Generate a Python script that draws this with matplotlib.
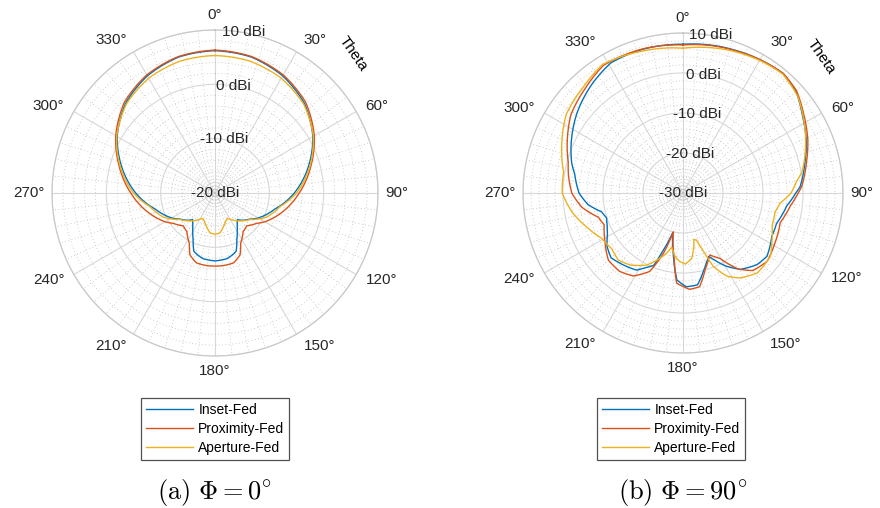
import numpy as np
import matplotlib
matplotlib.use("Agg")
import matplotlib.pyplot as plt

plt.rcParams['font.family'] = ['Liberation Sans', 'DejaVu Sans']
plt.rcParams['mathtext.fontset'] = 'cm'

# farger (MATLAB standard)
c_inset = '#0072BD'
c_prox = '#D95319'
c_apert = '#EDB120'
txt = '#262626'
grid_c = '#d8d8d8'

series = ["Inset-Fed", "Proximity-Fed", "Aperture-Fed"]
theta_ticks = list(range(0, 360, 30))
theta_labels = [f"{a}°" for a in theta_ticks]

# (a) Phi = 0 deg, symmetrisk -> bare 0..180 grader
a_inset_th = [0, 15, 30, 45, 60, 75, 90, 105, 120, 127, 135, 140, 145, 150, 155, 160, 165, 170, 175, 180]
a_inset_db = [6.2, 5.9, 4.9, 3.3, 0.8, -2.3, -5.4, -8.6, -10.8, -12.0, -12.9, -13.6, -12.9, -11.8, -10.5, -8.6, -8.1, -7.7, -7.6, -7.5]
a_prox_th = [0, 15, 30, 45, 60, 75, 90, 105, 113, 120, 126, 136, 144, 153, 158, 165, 170, 175, 180]
a_prox_db = [6.3, 6.0, 5.1, 3.6, 1.1, -1.8, -4.5, -7.0, -8.3, -9.4, -10.5, -11.6, -11.2, -9.6, -7.7, -6.7, -6.6, -6.55, -6.55]
a_apert_th = [0, 15, 30, 45, 60, 75, 90, 102, 115, 127, 142, 148, 154, 158, 162, 166, 173, 180]
a_apert_db = [5.3, 5.1, 4.4, 3.1, 0.9, -2.0, -5.0, -7.8, -9.5, -11.9, -13.5, -14.2, -14.8, -14.6, -14.1, -13.6, -12.6, -12.4]

# (b) Phi = 90 deg, hele runden
b_inset_th = [0, 10, 20, 30, 40, 48, 57, 67, 76, 87, 90, 97, 108, 116, 127, 134, 143, 150, 155, 158, 161, 165,
              171, 178, 184, 189, 194.5, 199, 202, 207, 211, 220, 228, 235, 241, 246, 252, 257, 263, 270, 280,
              285, 295, 307, 319, 331, 345, 360]
b_inset_db = [7.2, 7.6, 8.0, 8.5, 9.0, 8.0, 5.6, 3.5, 1.4, -0.7, -1.8, -3.85, -5.4, -5.3, -3.7, -4.25, -6.1, -9.0,
              -11.6, -12.9, -11.8, -10.0, -6.75, -6.55, -8.2, -14.5, -19.8, -14.9, -10.5, -9.0, -7.5, -6.6, -5.8,
              -6.8, -8.4, -9.3, -9.9, -9.1, -6.1, -4.0, -2.5, -1.2, 0.8, 3.2, 5.3, 7.2, 7.3, 7.2]
b_prox_th = [0, 10, 20, 30, 40, 48, 57, 67, 76, 87, 90, 97, 107, 119, 129, 138, 144, 150.5, 156.5, 160, 164, 170,
             176, 184, 188, 194, 198, 203, 211, 219, 228, 238, 248, 254, 262, 270, 279, 285, 295, 305, 317, 328,
             345, 360]
b_prox_db = [7.0, 7.5, 7.9, 8.5, 9.0, 8.2, 6.0, 3.9, 1.8, -0.3, -1.2, -3.0, -4.6, -3.8, -2.9, -3.9, -6.5, -11.2,
             -13.1, -11.8, -10.0, -6.2, -5.85, -7.4, -13.9, -20.0, -14.1, -8.7, -5.8, -4.8, -4.9, -7.0, -8.75,
             -8.0, -4.45, -2.2, -1.0, -0.3, 1.9, 4.2, 5.8, 7.6, 7.4, 7.0]
b_apert_th = [0, 15, 30, 40, 50, 60, 70, 80, 84, 90, 96, 101.5, 110, 118, 126, 137, 146, 152, 157.5, 160.5, 164,
              166.7, 169, 172.4, 178, 182.5, 187, 191.8, 195, 199.4, 206.8, 216.4, 224, 232, 241, 249.6, 260.5,
              270, 280, 294, 304, 317, 328, 344, 360]
b_apert_db = [6.2, 7.3, 8.3, 8.8, 7.5, 5.0, 2.6, 0.2, -1.4, -3.0, -5.6, -6.5, -6.3, -4.8, -3.0, -2.7, -4.4, -6.4,
              -10.1, -14.5, -17.7, -18.1, -16.0, -13.5, -12.25, -12.8, -13.95, -16.2, -14.5, -12.7, -9.8, -7.65,
              -6.7, -7.4, -6.7, -4.7, -1.8, 0.2, 0.3, 3.1, 5.2, 6.4, 7.9, 6.9, 6.2]


def speil(th, db):
    # speiler 0..180 til 0..360
    th = np.array(th, dtype=float)
    db = np.array(db, dtype=float)
    return np.concatenate([th, 360 - th[::-1][1:]]), np.concatenate([db, db[::-1][1:]])


def polar_oppsett(ax, rmin, rmax):
    ax.set_theta_zero_location('N')
    ax.set_theta_direction(-1)
    ax.set_rlim(rmin, rmax)
    ax.set_xticks(np.deg2rad(theta_ticks))
    ax.set_xticklabels([])
    ax.set_xticks(np.deg2rad(np.arange(0, 360, 6)), minor=True)
    ax.set_yticks(np.arange(rmin, rmax + 1, 10))
    ax.set_yticks(np.arange(rmin, rmax, 2), minor=True)
    ax.set_yticklabels([])
    ax.tick_params(which='both', length=0)
    ax.grid(True, which='major', color=grid_c, lw=0.8, ls='-')
    ax.grid(True, which='minor', color='#c0c0c0', lw=0.6, ls=(0, (1, 3)))
    ax.spines['polar'].set_color('#c8c8c8')
    ax.spines['polar'].set_linewidth(0.9)
    # vinkeletiketter utenfor sirkelen, forankret i naermeste kant (som MATLAB)
    for a, lab in zip(theta_ticks, theta_labels):
        t = np.deg2rad(a)
        d = (7 + 8 * abs(np.cos(t))) * 72 / 100
        if a in (0, 180):
            ha = 'center'
        elif a < 180:
            ha = 'left'
        else:
            ha = 'right'
        ax.annotate(lab, xy=(t, rmax), xytext=(d * np.sin(t), d * np.cos(t)), textcoords='offset points',
                    ha=ha, va='center', fontsize=11, color=txt, annotation_clip=False)
    for r in range(rmin, rmax + 1, 10):
        ax.text(np.deg2rad(10), r, f"{r} dBi", ha='center', va='center', fontsize=11, color=txt)


def tegn(ax, data):
    for (th, db), farge, navn in zip(data, [c_inset, c_prox, c_apert], series):
        ln, = ax.plot(np.deg2rad(th), db, color=farge, lw=1.0, label=navn)
        ln.get_path()._interpolation_steps = 8


fig = plt.figure(figsize=(8.8, 5.08), dpi=100)

ax1 = fig.add_axes([52 / 880, 1 - 356 / 508, 326 / 880, 326 / 508], projection='polar')
polar_oppsett(ax1, -20, 10)
tegn(ax1, [speil(a_inset_th, a_inset_db), speil(a_prox_th, a_prox_db), speil(a_apert_th, a_apert_db)])

ax2 = fig.add_axes([523 / 880, 1 - 353 / 508, 320 / 880, 320 / 508], projection='polar')
polar_oppsett(ax2, -30, 10)
tegn(ax2, [(b_inset_th, b_inset_db), (b_prox_th, b_prox_db), (b_apert_th, b_apert_db)])

# "Theta"-tekst
fig.text(353 / 880, 1 - 54 / 508, "Theta", rotation=-55, ha='center', va='center', fontsize=11, color='black')
fig.text(821 / 880, 1 - 57 / 508, "Theta", rotation=-55, ha='center', va='center', fontsize=11, color='black')

# legender
for ax, cx in [(ax1, 215), (ax2, 671)]:
    leg = ax.legend(loc='center', bbox_to_anchor=(cx / 880, 1 - 429 / 508), bbox_transform=fig.transFigure,
                    fontsize=10, frameon=True, fancybox=False, handlelength=3.4, handletextpad=0.4,
                    labelspacing=0.35, borderpad=0.35, borderaxespad=0)
    leg.get_frame().set_edgecolor(txt)
    leg.get_frame().set_linewidth(0.9)
    for h in leg.get_lines():
        h.set_linewidth(1.0)

# undertekster
fig.text(214 / 880, 1 - 492 / 508, r"$\mathrm{(a)}\ \Phi = 0^{\circ}$", ha='center', va='center', fontsize=19)
fig.text(683 / 880, 1 - 492 / 508, r"$\mathrm{(b)}\ \Phi = 90^{\circ}$", ha='center', va='center', fontsize=19)

fig.savefig("out.png", dpi=100)
